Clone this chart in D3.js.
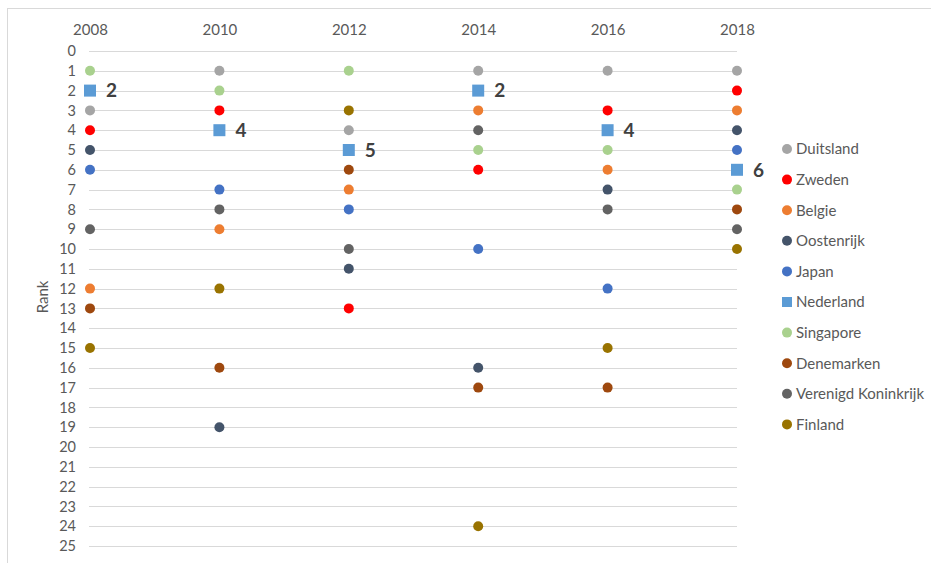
<!DOCTYPE html>
<html>
<head>
<meta charset="utf-8">
<script src="https://cdn.jsdelivr.net/npm/d3@7"></script>
<style>
  body { margin: 0; background: #fff; }
  svg { font-family: Lato, "Open Sans", sans-serif; }
</style>
</head>
<body>
<div id="chart"></div>
<script>
const years = [2008, 2010, 2012, 2014, 2016, 2018];
const countries = ["Duitsland", "Zweden", "Belgie", "Oostenrijk", "Japan", "Nederland",
  "Singapore", "Denemarken", "Verenigd Koninkrijk", "Finland"];
const colors = ["#A5A5A5", "#FF0000", "#ED7D31", "#44546A", "#4472C4", "#5B9BD5",
  "#A9D18E", "#9E480E", "#636363", "#997300"];
// ranks per country, one per year
const duitsland = [3, 1, 4, 1, 1, 1];
const zweden = [4, 3, 13, 6, 3, 2];
const belgie = [12, 9, 7, 3, 6, 3];
const oostenrijk = [5, 19, 11, 16, 7, 4];
const japan = [6, 7, 8, 10, 12, 5];
const nederland = [2, 4, 5, 2, 4, 6];
const singapore = [1, 2, 1, 5, 5, 7];
const denemarken = [13, 16, 6, 17, 17, 8];
const verenigdKoninkrijk = [9, 8, 10, 4, 8, 9];
const finland = [15, 12, 3, 24, 15, 10];
const rankTicks = d3.range(0, 26);

const series = [duitsland, zweden, belgie, oostenrijk, japan, nederland,
  singapore, denemarken, verenigdKoninkrijk, finland].map((vals, i) => ({
  name: countries[i], color: colors[i], square: countries[i] === "Nederland",
  values: vals.map((v, j) => ({ year: years[j], rank: v }))
}));

const width = 931, height = 563;
const font = "Lato, 'Open Sans', sans-serif";
const svg = d3.select("#chart").append("svg")
  .attr("width", width).attr("height", height);

svg.append("rect")
  .attr("x", 7.5).attr("y", 8.5)
  .attr("width", 940).attr("height", 570)
  .attr("fill", "none").attr("stroke", "#D9D9D9");

const x = d3.scalePoint().domain(years).range([90, 737]);
const y = d3.scaleLinear().domain([0, 25]).range([51, 546]);

// gridlines
svg.append("g").selectAll("line")
  .data(rankTicks).join("line")
  .attr("x1", 89).attr("x2", 737)
  .attr("y1", d => Math.round(y(d)) + 0.5).attr("y2", d => Math.round(y(d)) + 0.5)
  .attr("stroke", "#D9D9D9").attr("stroke-width", 1);

// y axis labels
const yAxis = svg.append("g")
  .attr("transform", "translate(76,0)")
  .call(d3.axisLeft(y).tickValues(rankTicks).tickSize(0).tickPadding(0));
yAxis.select(".domain").remove();
yAxis.selectAll("text").attr("font-size", 14.5).attr("fill", "#595959")
  .attr("font-family", font);

// x axis labels on top
const xAxis = svg.append("g")
  .attr("transform", "translate(0,35)")
  .call(d3.axisTop(x).tickSize(0).tickPadding(0));
xAxis.select(".domain").remove();
xAxis.selectAll("text").attr("font-size", 15).attr("fill", "#595959")
  .attr("font-family", font);

svg.append("text")
  .attr("transform", "translate(48,297) rotate(-90)")
  .attr("text-anchor", "middle")
  .attr("font-size", 15).attr("fill", "#595959")
  .text("Rank");

// points
series.forEach(s => {
  const g = svg.append("g");
  if (s.square) {
    g.selectAll("rect").data(s.values).join("rect")
      .attr("x", d => x(d.year) - 6).attr("y", d => y(d.rank) - 6)
      .attr("width", 12).attr("height", 12)
      .attr("fill", s.color);
    g.selectAll("text").data(s.values).join("text")
      .attr("x", d => x(d.year) + 16).attr("y", d => y(d.rank))
      .attr("dy", "0.36em")
      .attr("font-size", 19).attr("font-weight", "bold").attr("fill", "#404040")
      .text(d => d.rank);
  } else {
    g.selectAll("circle").data(s.values).join("circle")
      .attr("cx", d => x(d.year)).attr("cy", d => y(d.rank))
      .attr("r", 5).attr("fill", s.color);
  }
});

// legend
const legend = svg.append("g").selectAll("g")
  .data(series).join("g")
  .attr("transform", (d, i) => `translate(787,${149 + i * 30.6})`);
legend.each(function (d) {
  const g = d3.select(this);
  if (d.square) {
    g.append("rect").attr("x", -5).attr("y", -5).attr("width", 10).attr("height", 10)
      .attr("fill", d.color);
  } else {
    g.append("circle").attr("r", 5).attr("fill", d.color);
  }
  g.append("text").attr("x", 9).attr("dy", "0.36em")
    .attr("font-size", 15).attr("fill", "#595959").text(d.name);
});
</script>
</body>
</html>
